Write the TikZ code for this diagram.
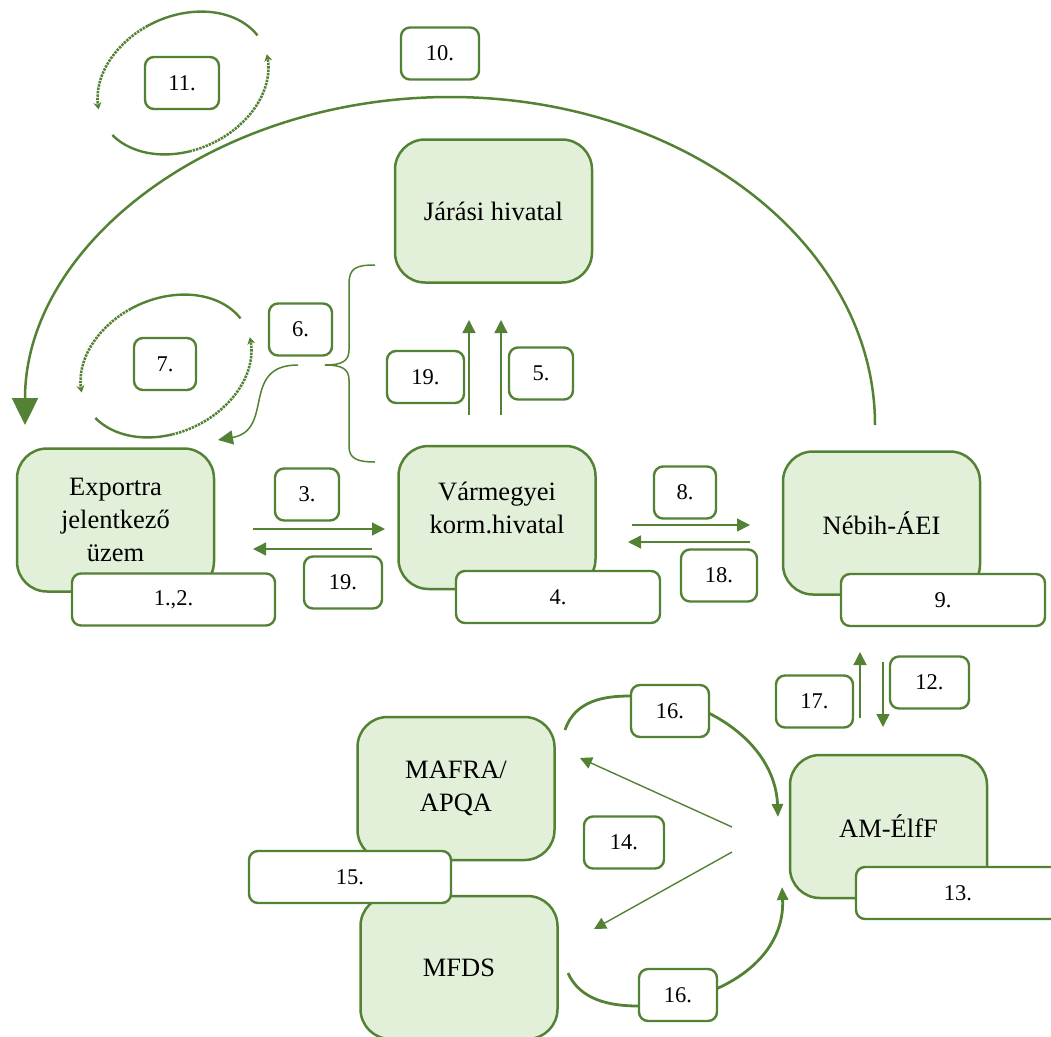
\documentclass[tikz,border=0pt]{standalone}
\usepackage{fontspec}
\setmainfont{Liberation Serif}
\usetikzlibrary{arrows.meta}
\definecolor{gline}{HTML}{548235}
\definecolor{gfill}{HTML}{E2EFD9}
\tikzstyle{Arrow}=[gline,line width=1.4pt,-{Triangle[length=13pt,width=13pt]}]
\tikzstyle{Big}=[draw=gline,fill=gfill,line width=2.5pt,rounded corners=30pt,minimum width=197pt,minimum height=143pt,align=center,inner sep=0pt,font=\fontsize{26.5}{33}\selectfont]
\tikzstyle{BigText}=[align=center,inner sep=0pt,font=\fontsize{26.5}{33}\selectfont]
\tikzstyle{Num}=[draw=gline,fill=white,line width=2.4pt,rounded corners=9pt,minimum height=52pt,inner sep=0pt,font=\fontsize{22.5}{27}\selectfont]
\tikzstyle{Dots}=[gline,line width=2.6pt,dash pattern=on 2.4pt off 1pt]

\begin{document}
\begin{tikzpicture}[x=1pt,y=-1pt]
\useasboundingbox (0,0) rectangle (1051,1036);

% free ends of the connectors
\coordinate (arcS) at (875,425);
\coordinate (braceB) at (375,462);
\coordinate (braceT) at (375,265);
\coordinate (braceM) at (325,365);
\coordinate (s6) at (298,365);
\coordinate (e6) at (218,440);
\coordinate (s3) at (253,529);
\coordinate (e3) at (385,529);
\coordinate (s19a) at (372,549);
\coordinate (e19a) at (253,549);
\coordinate (s19b) at (469,415);
\coordinate (e19b) at (469,320);
\coordinate (s5) at (501,415);
\coordinate (e5) at (501,320);
\coordinate (s8) at (632,525);
\coordinate (e8) at (750,525);
\coordinate (s18) at (750,542);
\coordinate (e18) at (628,542);
\coordinate (s17) at (860,718);
\coordinate (e17) at (860,652);
\coordinate (s12) at (883,662);
\coordinate (e12) at (883,727);
\coordinate (s14a) at (732,827);
\coordinate (e14a) at (580,758);
\coordinate (s14b) at (732,852);
\coordinate (e14b) at (594,929);
\coordinate (s16a) at (565,730);
\coordinate (e16a) at (778,817);
\coordinate (s16b) at (568,973);
\coordinate (e16b) at (782,887);

% big arc 10.
\draw[gline,line width=2.5pt,-{Triangle[length=27pt,width=26pt]}] (arcS) arc[start angle=0,end angle=-180,x radius=425,y radius=328];

% circular arrows 11. and 7.
\foreach \cx/\cy in {183/83,166/366} {
  \draw[gline,line width=2.4pt] plot[domain=265:350,samples=30] ({\cx+89*cos(\x)*cos(25)+67*sin(\x)*sin(25)},{\cy-89*cos(\x)*sin(25)+67*sin(\x)*cos(25)});
  \draw[Dots,-{Stealth[length=7pt,width=8pt]}] plot[domain=265:190,samples=30] ({\cx+89*cos(\x)*cos(25)+67*sin(\x)*sin(25)},{\cy-89*cos(\x)*sin(25)+67*sin(\x)*cos(25)});
  \draw[gline,line width=2.4pt] plot[domain=105:165,samples=30] ({\cx+89*cos(\x)*cos(25)+67*sin(\x)*sin(25)},{\cy-89*cos(\x)*sin(25)+67*sin(\x)*cos(25)});
  \draw[Dots,-{Stealth[length=7pt,width=8pt]}] plot[domain=105:8,samples=40] ({\cx+89*cos(\x)*cos(25)+67*sin(\x)*sin(25)},{\cy-89*cos(\x)*sin(25)+67*sin(\x)*cos(25)});
}

% brace and arrow 6.
\draw[gline,line width=1.5pt] (braceT) .. controls (356,265) and (349,268) .. (349,284) -- (349,350)
  .. controls (349,361) and (342,365) .. (braceM) .. controls (342,365) and (349,369) .. (349,380)
  -- (349,446) .. controls (349,458) and (356,462) .. (braceB);
\draw[gline,line width=1.5pt,-{Triangle[length=15pt,width=14pt]}] (s6) .. controls (240,365) and (275,430) .. (e6);

% straight arrows
\draw[Arrow] (s3) -- (e3);
\draw[Arrow] (s19a) -- (e19a);
\draw[Arrow] (s19b) -- (e19b);
\draw[Arrow] (s5) -- (e5);
\draw[Arrow] (s8) -- (e8);
\draw[Arrow] (s18) -- (e18);
\draw[Arrow] (s17) -- (e17);
\draw[Arrow] (s12) -- (e12);
\draw[Arrow,-{Triangle[length=12pt,width=12pt]}] (s14a) -- (e14a);
\draw[Arrow,-{Triangle[length=12pt,width=12pt]}] (s14b) -- (e14b);

% curved arrows 16.
\draw[gline,line width=2.8pt,-{Triangle[length=13pt,width=11pt]}] (s16a) .. controls (575,700) and (605,696) .. (630,696) -- (640,696) .. controls (700,696) and (775,740) .. (e16a);
\draw[gline,line width=2.8pt,-{Triangle[length=13pt,width=11pt]}] (s16b) .. controls (580,1000) and (610,1006) .. (638,1006) -- (690,998) .. controls (740,985) and (785,950) .. (e16b);

% main boxes
\node[Big] (jaras) at (493.5,211) {Járási hivatal};
\node[Big] (export) at (115.5,520) {Exportra\\jelentkező\\üzem};
\node[Big] (varm) at (497,517.5) {};
\node[BigText] (varmtext) at (497,508) {Vármegyei\\korm.hivatal};
\node[Big] (nebih) at (881.5,523) {Nébih-ÁEI};
\node[Big] (mafra) at (456,788.5) {MAFRA/\\APQA};
\node[Big] (mfds) at (459,967.5) {MFDS};
\node[Big] (amelf) at (888.5,826.5) {AM-ÉlfF};

% number boxes
\node[Num,minimum width=78pt] (n10) at (440,53.5) {10.};
\node[Num,minimum width=74pt] (n11) at (182,83) {11.};
\node[Num,minimum width=63pt] (n6) at (300.5,329.5) {6.};
\node[Num,minimum width=62pt] (n7) at (165,364) {7.};
\node[Num,minimum width=77pt] (n19b) at (425.5,377) {19.};
\node[Num,minimum width=64pt] (n5) at (541,373.5) {5.};
\node[Num,minimum width=64pt] (n3) at (307,494.5) {3.};
\node[Num,minimum width=78pt] (n19a) at (343,582.5) {19.};
\node[Num,minimum width=62pt] (n8) at (685,492.5) {8.};
\node[Num,minimum width=76pt] (n18) at (719,575.5) {18.};
\node[Num,minimum width=203pt] (n12a) at (173.5,599.5) {1.,2.};
\node[Num,minimum width=204pt] (n4) at (558,597) {4.};
\node[Num,minimum width=204pt] (n9) at (943,600) {9.};
\node[Num,minimum width=77pt] (n17) at (814.5,701.5) {17.};
\node[Num,minimum width=79pt] (n12) at (929.5,682.5) {12.};
\node[Num,minimum width=78pt] (n16a) at (670,711) {16.};
\node[Num,minimum width=80pt] (n14) at (624,842.5) {14.};
\node[Num,minimum width=202pt] (n15) at (350,877) {15.};
\node[Num,minimum width=204pt] (n13) at (958,893) {13.};
\node[Num,minimum width=78pt] (n16b) at (678,995) {16.};

\end{tikzpicture}
\end{document}
